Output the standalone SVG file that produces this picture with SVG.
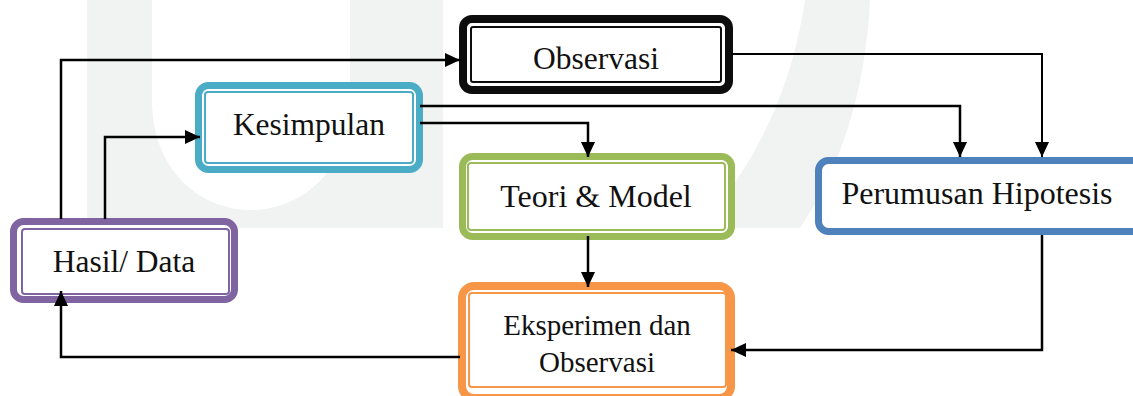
<svg xmlns="http://www.w3.org/2000/svg" width="1133" height="396" viewBox="0 0 1133 396">
<defs>
<style>
.wm{fill:#f0f3f1;stroke:none}
.box{fill:#ffffff}
.inner{fill:none;stroke-width:2}
.lbl{font-family:"Liberation Serif","Times New Roman",serif;font-size:31.5px;fill:#111;text-anchor:middle}
.con{fill:none;stroke:#000;stroke-width:2.5;marker-end:url(#ah)}
</style>
<marker id="ah" viewBox="0 0 15 14" refX="15" refY="7" markerWidth="15" markerHeight="14" orient="auto" markerUnits="userSpaceOnUse">
<path d="M0,0 L15,7 L0,14 Z" fill="#000"/>
</marker>
</defs>
<rect width="1133" height="396" fill="#ffffff"/>
<g id="watermark">
<path class="wm" fill-rule="evenodd" d="M87,0 H443 V228 H87 Z M152,0 V100 C152,170 200,210 251,210 C302,210 350,170 350,100 V0 Z"/>
<path class="wm" d="M805,0 H870 C866,90 840,170 800,228 H700 C750,170 790,100 805,0 Z"/>
</g>
<g id="observasi">
<rect class="box" x="463" y="19" width="266" height="71" rx="9" stroke="#0d0d0d" stroke-width="8"/>
<rect class="inner" x="471" y="27" width="250" height="55" rx="2" stroke="#0d0d0d"/>
<text class="lbl" x="596" y="69">Observasi</text>
</g>
<g id="kesimpulan">
<rect class="box" x="198.5" y="85.5" width="221" height="84" rx="10" stroke="#4bacc6" stroke-width="7"/>
<rect class="inner" x="205" y="92" width="208" height="71" rx="3" stroke="#4bacc6"/>
<text class="lbl" x="309" y="135">Kesimpulan</text>
</g>
<g id="teori">
<rect class="box" x="462.5" y="156.5" width="269" height="80" rx="10" stroke="#9bbb59" stroke-width="7"/>
<rect class="inner" x="468" y="163" width="257" height="67" rx="3" stroke="#9bbb59"/>
<text class="lbl" x="596" y="207" style="font-size:32px">Teori &amp; Model</text>
</g>
<g id="perumusan">
<rect class="box" x="818.5" y="160.5" width="330" height="71" rx="10" stroke="#4f81bd" stroke-width="7"/>
<text class="lbl" x="977" y="204" style="font-size:32px">Perumusan Hipotesis</text>
</g>
<g id="hasil">
<rect class="box" x="13.5" y="221.5" width="221" height="78" rx="10" stroke="#8064a2" stroke-width="7"/>
<rect class="inner" x="22" y="229" width="207" height="65" rx="3" stroke="#8064a2"/>
<text class="lbl" x="124" y="272">Hasil/ Data</text>
</g>
<g id="eksperimen">
<rect class="box" x="462" y="286" width="269" height="112" rx="12" stroke="#f79646" stroke-width="8"/>
<rect class="inner" x="469" y="293" width="257" height="94" rx="3" stroke="#f79646"/>
<text class="lbl" x="597" y="335" style="font-size:29px">Eksperimen dan</text>
<text class="lbl" x="597" y="372" style="font-size:29px">Observasi</text>
</g>
<g id="connectors">
<path class="con" d="M61,219 V60 H460"/>
<path class="con" d="M105,219 V137 H200"/>
<path class="con" d="M420,123 H588 V157"/>
<path class="con" d="M420,106 H960 V157"/>
<path class="con" d="M732,54 H1042 V157" style="stroke-width:2"/>
<path class="con" d="M588,236 V287"/>
<path class="con" d="M1042,235 V350 H731"/>
<path class="con" d="M460,357 H61 V291"/>
</g>
</svg>
